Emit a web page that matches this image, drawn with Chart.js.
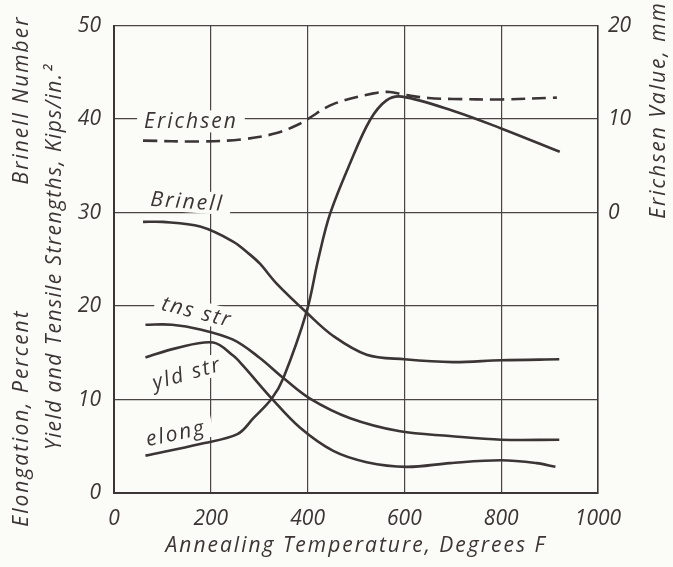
<!DOCTYPE html>
<html>
<head>
<meta charset="utf-8">
<script src="https://cdn.jsdelivr.net/npm/chart.js@4/dist/chart.umd.min.js"></script>
<style>
  html, body { margin: 0; padding: 0; background: #fbfbf7; }
  canvas { display: block; }
</style>
</head>
<body>
<canvas id="annealChart" width="673" height="567"></canvas>
<script>
// values (left axis units, Erichsen in mm on the right axis)
const brinellTemp = [60, 100, 178, 246, 281, 302, 336, 400, 453, 522, 600, 700, 800, 920];
const brinellVal  = [29.0, 29.0, 28.5, 26.9, 25.5, 24.5, 22.4, 19.2, 16.8, 14.8, 14.3, 14.0, 14.2, 14.3];

const tnsTemp = [65, 120, 178, 246, 300, 350, 405, 488, 591, 694, 800, 920];
const tnsVal  = [18.0, 18.0, 17.5, 16.4, 14.5, 12.3, 10.1, 8.0, 6.6, 6.1, 5.7, 5.7];

const yldTemp = [65, 129, 205, 246, 267, 326, 384, 453, 522, 605, 694, 800, 873, 912];
const yldVal  = [14.5, 15.5, 16.1, 14.7, 13.6, 10.1, 7.0, 4.5, 3.3, 2.8, 3.2, 3.5, 3.2, 2.8];

const elongTemp = [65, 178, 255, 288, 326, 350, 398, 422, 446, 488, 529, 563, 595, 700, 800, 921];
const elongVal  = [4.0, 5.25, 6.3, 8.0, 10.1, 12.3, 19.4, 25.0, 29.8, 35.3, 39.9, 42.0, 42.4, 40.9, 39.0, 36.5];

const erichsenTemp = [60, 178, 267, 336, 384, 400, 453, 536, 570, 600, 650, 700, 800, 915];
const erichsenVal  = [7.7, 7.6, 7.85, 8.5, 9.5, 10.0, 11.6, 12.75, 12.9, 12.6, 12.25, 12.15, 12.1, 12.3];

const xTicks = [0, 200, 400, 600, 800, 1000];
const leftTicks = [0, 10, 20, 30, 40, 50];
const rightTicks = [0, 10, 20];

// curve labels: [text, temp, left-axis value, rotation deg]
const curveLabels = [
  ['Erichsen', 159, 39.65, 0],
  ['Brinell', 151, 31.1, 4],
  ['tns str', 171, 19.3, 14],
  ['yld str', 151, 12.7, -16],
  ['elong', 128, 6.3, -12]
];

const ink = '#3b3535';
const bg = '#fbfbf7';
const fontFam = '"Open Sans", "DejaVu Sans", sans-serif';

function pts(xs, ys) {
  return xs.map((x, i) => ({x: x, y: ys[i]}));
}

function curve(data, axis, dash) {
  return {
    data: data,
    yAxisID: axis,
    borderColor: ink,
    borderWidth: 2.6,
    borderDash: dash || [],
    pointRadius: 0,
    fill: false,
    tension: 0.35
  };
}

const labelPlugin = {
  id: 'labels',
  beforeDatasetsDraw(chart) {
    const c = chart.ctx;
    const xs = chart.scales.x, ys = chart.scales.y;
    c.save();
    c.font = 'italic 21px ' + fontFam;
    c.letterSpacing = '2px';
    curveLabels.forEach(l => {
      const px = xs.getPixelForValue(l[1]);
      const py = ys.getPixelForValue(l[2]);
      const w = c.measureText(l[0]).width;
      c.save();
      c.translate(px, py);
      c.rotate(l[3] * Math.PI / 180);
      c.fillStyle = bg;
      c.fillRect(-w / 2 - 7, -12, w + 14, 22);
      c.fillStyle = ink;
      c.textAlign = 'center';
      c.textBaseline = 'middle';
      c.fillText(l[0], 0, 0);
      c.restore();
    });
    c.restore();
  },
  afterDraw(chart) {
    const c = chart.ctx;
    c.save();
    c.fillStyle = ink;
    c.font = 'italic 21px ' + fontFam;
    c.letterSpacing = '2px';
    c.textAlign = 'center';
    c.textBaseline = 'middle';
    const vert = (txt, x, y) => {
      c.save();
      c.translate(x, y);
      c.rotate(-Math.PI / 2);
      c.fillText(txt, 0, 0);
      c.restore();
    };
    vert('Brinell Number', 22, 100);
    vert('Elongation, Percent', 22, 418);
    c.letterSpacing = '1.4px';
    vert('Yield and Tensile Strengths, Kips/in.\u00b2', 55, 257);
    c.letterSpacing = '2px';
    vert('Erichsen Value, mm', 659, 110);
    c.fillText('Annealing Temperature, Degrees F', (chart.chartArea.left + chart.chartArea.right) / 2, 546);
    c.restore();
  }
};

const tickFont = { family: fontFam, size: 21, style: 'italic' };

const ctx = document.getElementById('annealChart').getContext('2d');
const annealChart = new Chart(ctx, {
  type: 'line',
  data: {
    datasets: [
      curve(pts(erichsenTemp, erichsenVal), 'y2', [14, 7]),
      curve(pts(brinellTemp, brinellVal), 'y'),
      curve(pts(tnsTemp, tnsVal), 'y'),
      curve(pts(yldTemp, yldVal), 'y'),
      curve(pts(elongTemp, elongVal), 'y')
    ]
  },
  options: {
    responsive: false,
    animation: false,
    layout: { padding: { top: 17, left: 0, right: 0, bottom: 0 } },
    plugins: {
      legend: { display: false },
      tooltip: { enabled: false }
    },
    scales: {
      x: {
        type: 'linear',
        min: 0,
        max: 1000,
        afterBuildTicks: s => { s.ticks = xTicks.map(v => ({value: v})); },
        afterFit: s => { s.height = 74; },
        grid: { color: '#4a4444', lineWidth: 1.2, drawTicks: false },
        border: { color: ink, width: 2 },
        ticks: { color: ink, padding: 13, font: tickFont, callback: v => String(v) }
      },
      y: {
        min: 0,
        max: 50,
        afterBuildTicks: s => { s.ticks = leftTicks.map(v => ({value: v})); },
        afterFit: s => { s.width = 114; },
        grid: { color: '#4a4444', lineWidth: 1.2, drawTicks: false },
        border: { color: ink, width: 2 },
        ticks: { color: ink, padding: 13, font: tickFont, callback: v => String(v) }
      },
      y2: {
        position: 'right',
        min: -30,
        max: 20,
        afterBuildTicks: s => { s.ticks = rightTicks.map(v => ({value: v})); },
        afterFit: s => { s.width = 75; },
        grid: { display: false, drawTicks: false },
        border: { color: ink, width: 1.5 },
        ticks: { color: ink, padding: 10, font: tickFont, callback: v => String(v) }
      }
    }
  },
  plugins: [labelPlugin]
});
</script>
</body>
</html>
